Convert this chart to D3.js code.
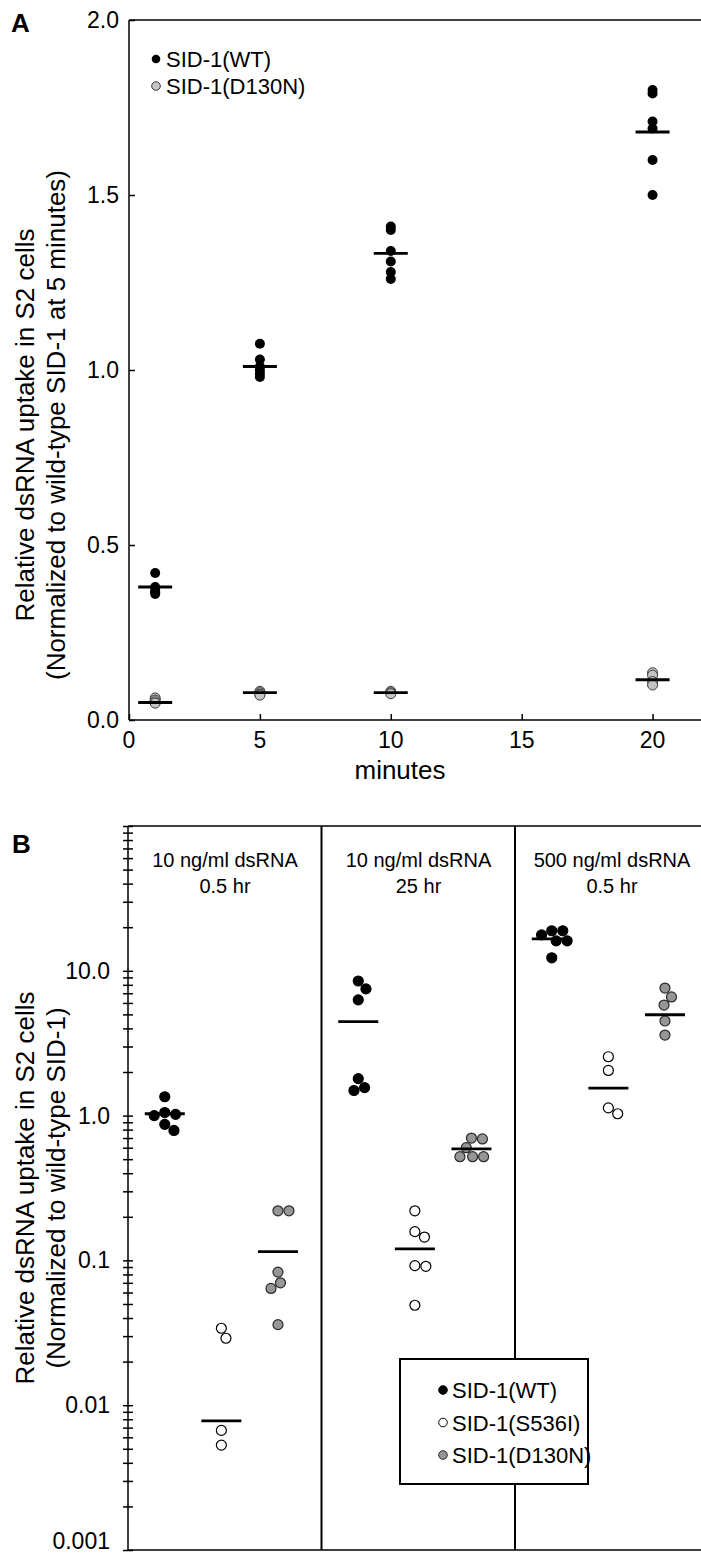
<!DOCTYPE html>
<html><head><meta charset="utf-8">
<script src="https://cdn.jsdelivr.net/npm/d3@7"></script>
<style>body{margin:0;background:#fff}svg{display:block;font-family:Arial,"Liberation Sans",Helvetica,sans-serif}</style>
</head><body><svg id="c" width="701" height="1556"></svg>
<script>
// ---------- Panel A data ----------
const timesA = [1, 5, 10, 20];
const wtA = [
  [0.42, 0.38, 0.37, 0.365, 0.36],
  [1.075, 1.03, 1.01, 1.0, 0.99, 0.98],
  [1.41, 1.40, 1.34, 1.31, 1.28, 1.26],
  [1.80, 1.79, 1.71, 1.69, 1.60, 1.50]
];
const wtAMean = [0.38, 1.01, 1.333, 1.68];
const d130A = [
  [0.063, 0.057, 0.052, 0.048],
  [0.082, 0.078, 0.074, 0.071],
  [0.082, 0.078, 0.075],
  [0.135, 0.128, 0.11, 0.10]
];
const d130AMean = [0.05, 0.078, 0.078, 0.115];
const ticksAy = [0, 0.5, 1.0, 1.5, 2.0];
const ticksAx = [0, 5, 10, 15, 20];
const legendA = ["SID-1(WT)", "SID-1(D130N)"];

// ---------- Panel B data ----------
const groupsB = [["10 ng/ml dsRNA", "0.5 hr"], ["10 ng/ml dsRNA", "25 hr"], ["500 ng/ml dsRNA", "0.5 hr"]];
const seriesB = ["SID-1(WT)", "SID-1(S536I)", "SID-1(D130N)"];
const wtB = [
  [1.35, 1.05, 1.02, 1.0, 0.87, 0.79],
  [8.5, 7.5, 6.3, 1.8, 1.56, 1.49],
  [18.9, 18.9, 17.7, 16.1, 16.1, 12.3]
];
const s536B = [
  [0.034, 0.029, 0.0067, 0.0053],
  [0.22, 0.158, 0.145, 0.092, 0.091, 0.049],
  [2.55, 2.05, 1.13, 1.03]
];
const d130B = [
  [0.22, 0.22, 0.083, 0.070, 0.064, 0.036],
  [0.70, 0.69, 0.60, 0.52, 0.52, 0.52],
  [7.6, 6.6, 5.8, 4.5, 3.6]
];
const wtBMean = [1.03, 4.45, 16.6];
const s536BMean = [0.0078, 0.12, 1.55];
const d130BMean = [0.115, 0.59, 4.97];
const ticksBMajor = [0.001, 0.01, 0.1, 1, 10];
const ticksBLabels = ["0.001", "0.01", "0.1", "1.0", "10.0"];

const svg = d3.select("#c");

// ================= PANEL A =================
const xA = d3.scaleLinear().domain([0, 21.85]).range([129, 701]);
const yA = d3.scaleLinear().domain([0, 2]).range([720, 20]);
const gA = svg.append("g");

gA.append("line").attr("x1", xA(0)).attr("x2", 701).attr("y1", yA(2)).attr("y2", yA(2))
  .attr("stroke", "#000").attr("stroke-width", 1.5);

const axAy = gA.append("g").attr("transform", `translate(${xA(0)},0)`)
  .call(d3.axisRight(yA).tickValues(ticksAy).tickSize(6).tickFormat(""));
axAy.select(".domain").remove();
gA.append("line").attr("x1", xA(0)).attr("x2", xA(0)).attr("y1", yA(2)).attr("y2", yA(0))
  .attr("stroke", "#000").attr("stroke-width", 1.5);
gA.selectAll(".ylabA").data(ticksAy).join("text")
  .attr("x", 119).attr("y", d => yA(d) + 8).attr("text-anchor", "end")
  .attr("font-size", 23).text(d => d3.format(".1f")(d));

const axAx = gA.append("g").attr("transform", `translate(0,${yA(0)})`)
  .call(d3.axisTop(xA).tickValues(ticksAx).tickSize(6).tickFormat(""));
axAx.select(".domain").remove();
gA.append("line").attr("x1", xA(0)).attr("x2", 701).attr("y1", yA(0)).attr("y2", yA(0))
  .attr("stroke", "#000").attr("stroke-width", 1.5);
gA.selectAll(".xlabA").data(ticksAx).join("text")
  .attr("x", d => xA(d)).attr("y", 748).attr("text-anchor", "middle")
  .attr("font-size", 23).text(d => d);
gA.append("text").attr("x", 400).attr("y", 779).attr("text-anchor", "middle")
  .attr("font-size", 26).text("minutes");

svg.selectAll(".tick line").attr("stroke", "#000").attr("stroke-width", 1.5);

const tA = gA.append("text").attr("transform", "translate(0,425) rotate(-90)")
  .attr("text-anchor", "middle").attr("font-size", 26);
tA.append("tspan").attr("x", 0).attr("y", 34).text("Relative dsRNA uptake in S2 cells");
tA.append("tspan").attr("x", 0).attr("y", 65).text("(Normalized to wild-type SID-1 at 5 minutes)");

gA.append("text").attr("x", 11).attr("y", 32).attr("font-size", 26).attr("font-weight", "bold").text("A");

const rA = 5;
timesA.forEach((t, i) => {
  gA.selectAll(null).data(d130A[i]).join("circle")
    .attr("cx", xA(t)).attr("cy", d => yA(d)).attr("r", rA)
    .attr("fill", "#c4c4c4").attr("stroke", "#3a3a3a").attr("stroke-width", 1);
  gA.selectAll(null).data(wtA[i]).join("circle")
    .attr("cx", xA(t)).attr("cy", d => yA(d)).attr("r", rA).attr("fill", "#000");
});
const meanW_A = 17;
gA.selectAll(".mwA").data(timesA).join("line")
  .attr("x1", d => xA(d) - meanW_A).attr("x2", d => xA(d) + meanW_A)
  .attr("y1", (d, i) => yA(wtAMean[i])).attr("y2", (d, i) => yA(wtAMean[i]))
  .attr("stroke", "#000").attr("stroke-width", 2.8);
gA.selectAll(".mdA").data(timesA).join("line")
  .attr("x1", d => xA(d) - meanW_A).attr("x2", d => xA(d) + meanW_A)
  .attr("y1", (d, i) => yA(d130AMean[i])).attr("y2", (d, i) => yA(d130AMean[i]))
  .attr("stroke", "#000").attr("stroke-width", 2.8);

const legAy = d3.scalePoint().domain(legendA).range([59, 86]);
legendA.forEach((s, i) => {
  gA.append("circle").attr("cx", 156).attr("cy", legAy(s)).attr("r", 4.3)
    .attr("fill", i === 0 ? "#000" : "#c4c4c4").attr("stroke", i === 0 ? "none" : "#3a3a3a");
  gA.append("text").attr("x", 166).attr("y", legAy(s) + 8).attr("font-size", 22).text(s);
});

// ================= PANEL B =================
const yB = d3.scaleLog().domain([0.001, 100]).range([1550, 826]);
const xB = d3.scaleBand().domain(d3.range(groupsB.length)).range([128, 708.5]);
const bw = xB.bandwidth();
const xS = d3.scalePoint().domain(seriesB).range([0.19 * bw, 0.775 * bw]);
const gB = svg.append("g");

gB.append("line").attr("x1", 128).attr("x2", 701).attr("y1", yB(100)).attr("y2", yB(100))
  .attr("stroke", "#000").attr("stroke-width", 1.5);
gB.append("line").attr("x1", 128).attr("x2", 701).attr("y1", yB(0.001)).attr("y2", yB(0.001))
  .attr("stroke", "#000").attr("stroke-width", 1.5);
gB.selectAll(".div").data([1, 2]).join("line")
  .attr("x1", d => xB(d)).attr("x2", d => xB(d)).attr("y1", yB(100)).attr("y2", yB(0.001))
  .attr("stroke", "#000").attr("stroke-width", 2);

const minor = [];
[0.001, 0.01, 0.1, 1, 10].forEach(b => { for (let k = 1; k <= 10; k++) minor.push(+(b * k).toPrecision(3)); });
const axB = gB.append("g").attr("transform", "translate(128,0)")
  .call(d3.axisLeft(yB).tickValues(Array.from(new Set(minor))).tickSize(5).tickFormat(""));
axB.selectAll(".tick line").attr("x1", -5).attr("x2", 5).attr("stroke", "#000").attr("stroke-width", 1.5);
axB.select(".domain").remove();
gB.append("line").attr("x1", 128).attr("x2", 128).attr("y1", yB(100)).attr("y2", yB(0.001))
  .attr("stroke", "#000").attr("stroke-width", 1.5);
gB.selectAll(".ylabB").data(ticksBMajor).join("text")
  .attr("x", 110).attr("y", d => Math.min(yB(d) + 8, 1549)).attr("text-anchor", "end")
  .attr("font-size", 23).text((d, i) => ticksBLabels[i]);

groupsB.forEach((g, i) => {
  const t = gB.append("text").attr("text-anchor", "middle").attr("font-size", 20);
  t.append("tspan").attr("x", xB(i) + 97).attr("y", 867).text(g[0]);
  t.append("tspan").attr("x", xB(i) + 97).attr("y", 893).text(g[1]);
});

const tB = gB.append("text").attr("transform", "translate(0,1188) rotate(-90)")
  .attr("text-anchor", "middle").attr("font-size", 26);
tB.append("tspan").attr("x", 0).attr("y", 34).text("Relative dsRNA uptake in S2 cells");
tB.append("tspan").attr("x", 0).attr("y", 65).text("(Normalized to wild-type SID-1)");

gB.append("text").attr("x", 12).attr("y", 853).attr("font-size", 26).attr("font-weight", "bold").text("B");

function swarm(vals, yScale, sep) {
  const pts = vals.map(v => ({ v, y: yScale(v), dx: 0 }));
  const placed = [];
  pts.forEach(p => {
    const cands = [0];
    placed.forEach(q => {
      const dy = Math.abs(p.y - q.y);
      if (dy < sep) { const d = Math.sqrt(sep * sep - dy * dy); cands.push(q.dx + d, q.dx - d); }
    });
    cands.sort((a, b) => Math.abs(a) - Math.abs(b));
    for (const c of cands) {
      if (placed.every(q => Math.hypot(c - q.dx, p.y - q.y) >= sep - 0.01)) { p.dx = c; break; }
    }
    placed.push(p);
  });
  return pts;
}

const rB = 5;
const styleB = {
  "SID-1(WT)": { fill: "#000", stroke: "#000" },
  "SID-1(S536I)": { fill: "#fff", stroke: "#000" },
  "SID-1(D130N)": { fill: "#969696", stroke: "#2a2a2a" }
};
const dataB = { "SID-1(WT)": wtB, "SID-1(S536I)": s536B, "SID-1(D130N)": d130B };
const meanB = { "SID-1(WT)": wtBMean, "SID-1(S536I)": s536BMean, "SID-1(D130N)": d130BMean };

groupsB.forEach((g, gi) => {
  seriesB.forEach(s => {
    const cx = xB(gi) + xS(s);
    const pts = swarm(dataB[s][gi], yB, 2 * rB + 1);
    gB.selectAll(null).data(pts).join("circle")
      .attr("cx", d => cx + d.dx).attr("cy", d => d.y).attr("r", rB)
      .attr("fill", styleB[s].fill).attr("stroke", styleB[s].stroke).attr("stroke-width", 1.2);
    gB.append("line").attr("x1", cx - 20).attr("x2", cx + 20)
      .attr("y1", yB(meanB[s][gi])).attr("y2", yB(meanB[s][gi]))
      .attr("stroke", "#000").attr("stroke-width", 2.8);
  });
});

const lg = gB.append("g");
lg.append("rect").attr("x", 400).attr("y", 1359).attr("width", 188).attr("height", 125)
  .attr("fill", "#fff").attr("stroke", "#000").attr("stroke-width", 2);
const legBy = d3.scalePoint().domain(seriesB).range([1390, 1455]);
seriesB.forEach(s => {
  lg.append("circle").attr("cx", 443).attr("cy", legBy(s)).attr("r", 4.3)
    .attr("fill", styleB[s].fill).attr("stroke", styleB[s].stroke).attr("stroke-width", 1);
  lg.append("text").attr("x", 452).attr("y", legBy(s) + 8).attr("font-size", 22).text(s);
});
</script></body></html>
